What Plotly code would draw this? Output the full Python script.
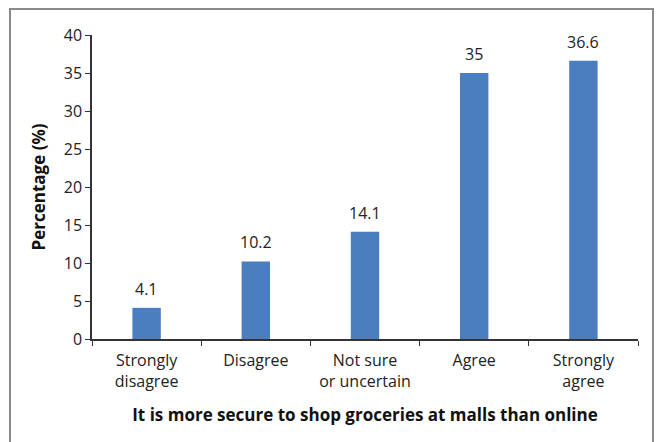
import plotly.graph_objects as go

categories = ["Strongly<br>disagree", "Disagree", "Not sure<br>or uncertain", "Agree", "Strongly<br>agree"]
values = [4.1, 10.2, 14.1, 35, 36.6]
value_labels = ["4.1", "10.2", "14.1", "35", "36.6"]
y_ticks = [0, 5, 10, 15, 20, 25, 30, 35, 40]

W, H = 659, 442
L, R, T, B = 92, 21, 35, 103
pw, ph = W - L - R, H - T - B

FONT = "Open Sans"

fig = go.Figure(go.Bar(
    x=categories, y=values, width=0.26,
    marker=dict(color="#4a7ebf", line=dict(width=0)),
    hoverinfo="x+y",
))

for c, v, t in zip(categories, values, value_labels):
    fig.add_annotation(x=c, y=v, text=t, showarrow=False, yanchor="bottom", yshift=6,
                       font=dict(family=FONT, size=16, color="#222"))

def px2x(px):
    return (px - L) / pw

def px2y(py):
    return (H - B - py) / ph

fig.update_layout(
    width=W, height=H,
    margin=dict(l=L, r=R, t=T, b=B),
    paper_bgcolor="white", plot_bgcolor="white",
    showlegend=False,
    font=dict(family=FONT, size=16, color="#222"),
    xaxis=dict(
        showline=True, linecolor="#333", linewidth=1.5,
        ticks="outside", tickson="boundaries", ticklen=5, tickcolor="#333",
        ticklabelstandoff=6,
        tickfont=dict(family=FONT, size=16, color="#222"),
        title=dict(text="<b>It is more secure to shop groceries at malls than online</b>",
                   font=dict(family=FONT, size=17, color="#111"), standoff=18),
        showgrid=False, fixedrange=True,
    ),
    yaxis=dict(
        range=[0, 40], tickvals=y_ticks,
        showline=True, linecolor="#333", linewidth=1.5,
        ticks="outside", ticklen=5, tickcolor="#333",
        tickfont=dict(family=FONT, size=16, color="#222"),
        title=dict(text="<b>Percentage (%)</b>",
                   font=dict(family=FONT, size=17, color="#111"), standoff=14),
        showgrid=False, zeroline=False,
    ),
    bargap=0.74,
    shapes=[dict(
        type="rect", xref="paper", yref="paper",
        x0=px2x(10), x1=px2x(653), y0=px2y(460), y1=px2y(9),
        line=dict(color="#8a8a8a", width=2), fillcolor="rgba(0,0,0,0)", layer="below",
    )],
)

fig.write_html("out.html")
